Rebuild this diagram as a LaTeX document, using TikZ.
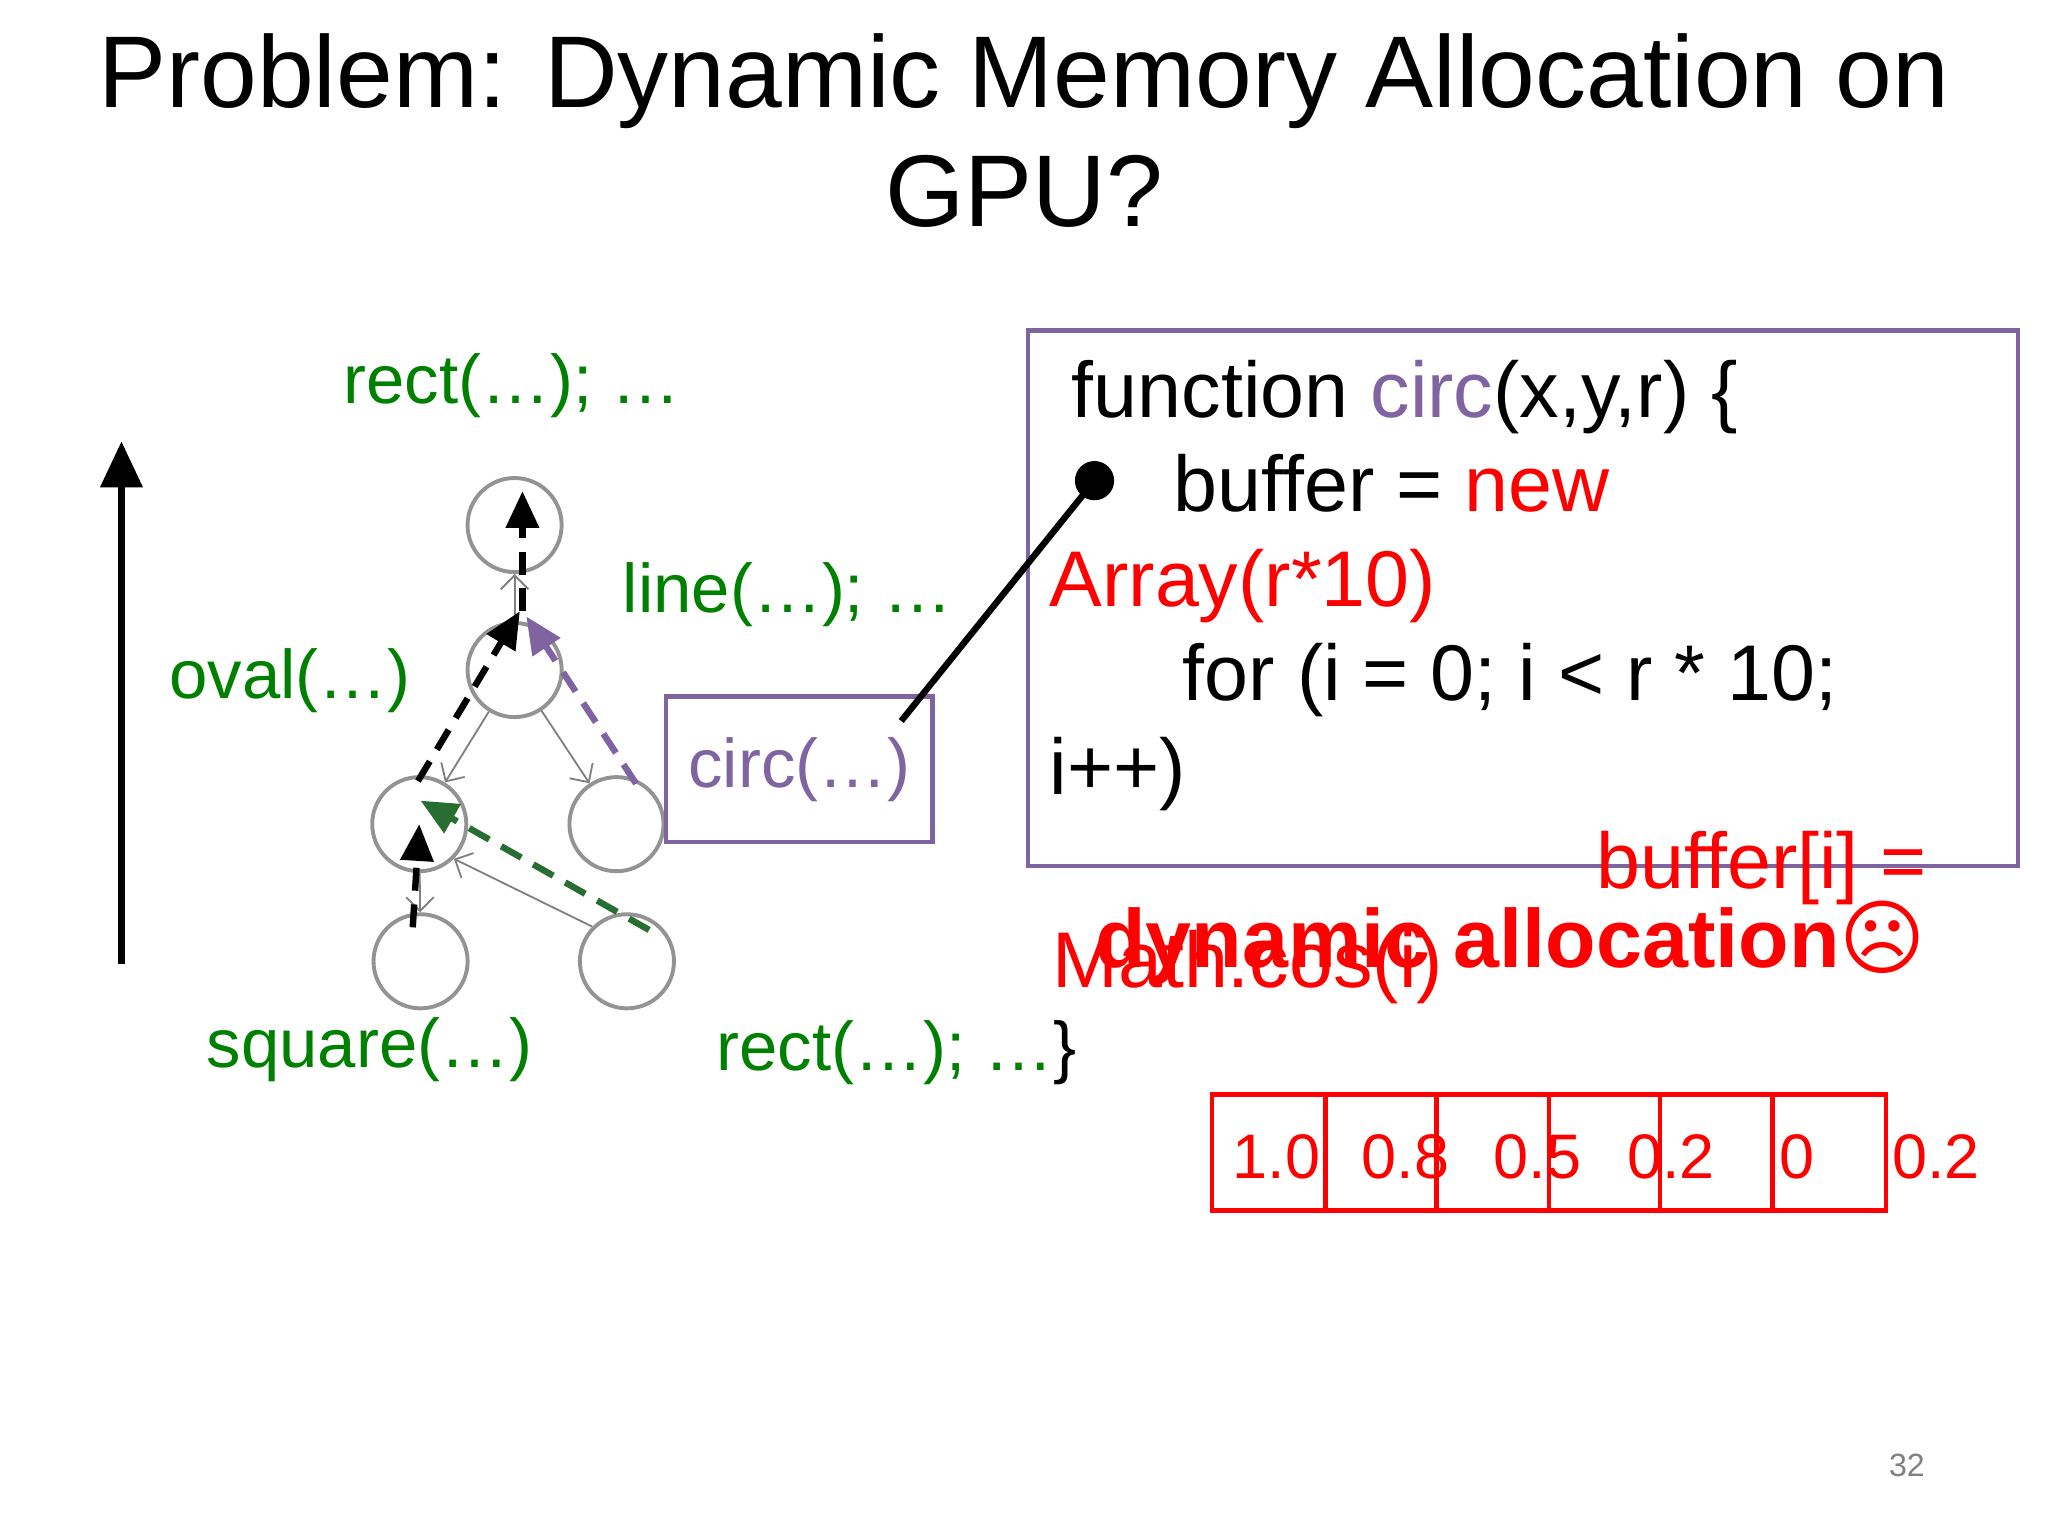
\documentclass[tikz,border=0pt]{standalone}
\usepackage{fontspec}
\setmainfont{Liberation Sans}
\newfontfamily\dejavu{DejaVu Sans}
\usetikzlibrary{arrows.meta}
\definecolor{grn}{RGB}{0,128,0}
\definecolor{prp}{RGB}{128,100,162}
\definecolor{dgrn}{RGB}{40,110,50}
\begin{document}
\begin{tikzpicture}[x=0.01cm,y=-0.01cm,
  circ/.style={circle,draw=gray!85,line width=0.85pt,minimum size=0.72cm,inner sep=0},
  glab/.style={text=grn,font=\fontsize{15}{18}\selectfont,inner sep=0},
  code/.style={font=\fontsize{17.2}{20}\selectfont,inner sep=0,anchor=base west},
  thin/.style={gray,line width=0.4pt,-{Straight Barb[length=3pt]}},
  dsh/.style={line width=1.4pt,dash pattern=on 5pt off 3pt,-{Triangle[length=8pt,width=7pt]}},
  num/.style={text=red,font=\fontsize{13.7}{16}\selectfont,inner sep=0,anchor=base west}]
\useasboundingbox (0,0) rectangle (1568,1176);
\node[font=\fontsize{22.2}{26}\selectfont,align=center] (title) at (784,100) {Problem: Dynamic Memory Allocation on\\GPU?};
% big arrow
\coordinate (abot) at (93,738); \coordinate (atop) at (93,338);
\draw[line width=1.4pt,-{Triangle[length=10pt,width=9pt]}] (abot) -- (atop);
% circles
\node[circ] (t) at (394,402) {};
\node[circ] (m) at (394,513) {};
\node[circ] (l) at (321,631) {};
\node[circ] (r) at (472,631) {};
\node[circ] (bl) at (322,736) {};
\node[circ] (br) at (480,736) {};
\draw[thin] (m) -- (t);
\draw[thin] (m) -- (l);
\draw[thin] (m) -- (r);
\draw[thin] (l) -- (bl);
\draw[thin] (br.north west) -- (l.south east);
% dashed arrows
\draw[dsh,black] (316,710) -- (l.center);
\draw[dsh,black] (320,598) -- (398,468);
\draw[dsh,black] (400,468) -- (400,376);
\draw[dsh,prp] (487,600) -- (403,472);
\draw[dsh,dgrn] (497,712) -- (322,613);
% labels
\node[glab] (l1) at (392,295) {rect(…); …};
\node[glab] (l2) at (603,455) {line(…); …};
\node[glab] (l3) at (222,521) {oval(…)};
\node[glab] (l4) at (283,804) {square(…)};
\node[glab,anchor=west] (l5) at (548,806) {rect(…); …\textcolor{black}{\}}};
\node[draw=prp,line width=1pt,minimum width=2.04cm,minimum height=1.11cm,text=prp,font=\fontsize{15}{18}\selectfont] (cb) at (612,589) {circ(…)};
% code box
\draw[prp,line width=1pt] (787,253) rectangle (1545,663);
\coordinate (pend) at (690,552);
\node[circle,fill=black,minimum size=0.3cm,inner sep=0] (dot) at (838,368) {};
\draw[line width=1.4pt] (pend) -- (dot.center);
\node[code] (c1) at (820,320) {function \textcolor{prp}{circ}(x,y,r) \{};
\node[code] (c2) at (898,392) {buffer = \textcolor{red}{new}};
\node[code,text=red] (c3) at (803,464) {Array(r*10)};
\node[code] (c4) at (905,536) {for (i = 0; i < r * 10;};
\node[code] (c5) at (803,608) {i++)};
\node[code,text=red,anchor=base east] (c6) at (1476,680) {buffer[i] =};
\node[code,text=red] (c7) at (805,756) {Math.cos(i)};
\node[inner sep=0,anchor=base west,text=red,font=\fontsize{18}{20}\selectfont\bfseries] (dyn) at (838,741) {dynamic allocation{\dejavu\mdseries ☹}};
% array
\foreach \a/\b in {928/1015,1015/1100,1100/1186,1186/1271,1271/1357,1357/1444}
  \draw[red,line width=1pt] (\a,838) rectangle (\b,927);
\node[num] (n1) at (943,902) {1.0};
\node[num] (n2) at (1042,902) {0.8};
\node[num] (n3) at (1143,902) {0.5};
\node[num] (n4) at (1245,902) {0.2};
\node[num] (n5) at (1362,902) {0};
\node[num] (n6) at (1448,902) {0.2};
\node[text=gray,font=\fontsize{7}{8}\selectfont] (pg) at (1460,1122) {32};
\end{tikzpicture}
\end{document}
